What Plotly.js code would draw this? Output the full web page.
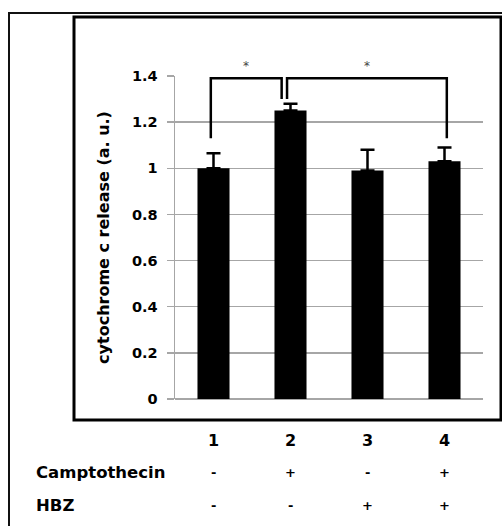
<!DOCTYPE html>
<html>
<head>
<meta charset="utf-8">
<script src="https://cdn.plot.ly/plotly-3.0.1.min.js"></script>
<style>html,body{margin:0;padding:0;background:#fff;}#chart{width:502px;height:526px;}</style>
</head>
<body>
<div id="chart"></div>
<script>
// ---- data ----
const categories = ['1', '2', '3', '4'];
const releaseValues = [1.0, 1.25, 0.99, 1.03];
const releaseErrors = [0.065, 0.03, 0.09, 0.06];
const camptothecin = ['-', '+', '-', '+'];
const hbz = ['-', '-', '+', '+'];
const yTickValues = [0, 0.2, 0.4, 0.6, 0.8, 1, 1.2, 1.4];
const yTickLabels = ['0', '0.2', '0.4', '0.6', '0.8', '1', '1.2', '1.4'];
// significance brackets (data units)
const bracketLeft = [-0.035, 0.955];
const bracketRight = [0.885, 3.03];
const bracketLeftFoot = [1.13, 1.30];
const bracketRightFoot = [1.30, 1.13];
const bracketTop = [1.39, 1.39];
const bracketLabels = ['*', '*'];

const W = 502, H = 526;
const px = v => v / W;
const py = v => 1 - v / H;
const FONT = 'DejaVu Sans, Liberation Sans, Arial, sans-serif';

const trace = {
  type: 'bar',
  x: categories,
  y: releaseValues,
  marker: {color: '#000000', line: {width: 0}},
  error_y: {
    type: 'data', array: releaseErrors, arrayminus: releaseErrors.map(() => 0),
    symmetric: false, color: '#000000', thickness: 2.5, width: 7
  },
  hoverinfo: 'skip'
};

const shapes = [
  // outer frame
  {type: 'rect', xref: 'paper', yref: 'paper', x0: px(9), x1: px(520), y0: py(540), y1: py(13),
   line: {color: '#111', width: 2}, layer: 'below'},
  // inner chart box
  {type: 'rect', xref: 'paper', yref: 'paper', x0: px(74), x1: px(501), y0: py(420), y1: py(17),
   line: {color: '#000', width: 3}, layer: 'below'}
];
const annotations = [];
for (let i = 0; i < bracketLeft.length; i++) {
  shapes.push({
    type: 'path', xref: 'x', yref: 'y',
    path: `M ${bracketLeft[i]},${bracketLeftFoot[i]} L ${bracketLeft[i]},${bracketTop[i]} L ${bracketRight[i]},${bracketTop[i]} L ${bracketRight[i]},${bracketRightFoot[i]}`,
    line: {color: '#000', width: 2.5}
  });
  annotations.push({
    xref: 'x', yref: 'paper', x: (bracketLeft[i] + bracketRight[i]) / 2, y: py(66), yanchor: 'middle',
    text: bracketLabels[i], showarrow: false, font: {family: FONT, size: 12, color: '#444'}
  });
}
// condition rows
annotations.push({xref: 'paper', yref: 'paper', x: px(34), y: py(472), xanchor: 'left', yanchor: 'middle',
  text: 'Camptothecin', showarrow: false, font: {family: FONT, size: 16.5, color: '#000', weight: 'bold'}});
annotations.push({xref: 'paper', yref: 'paper', x: px(34), y: py(505), xanchor: 'left', yanchor: 'middle',
  text: 'HBZ', showarrow: false, font: {family: FONT, size: 16.5, color: '#000', weight: 'bold'}});
categories.forEach((c, i) => {
  annotations.push({xref: 'x', yref: 'paper', x: i, y: py(472), yanchor: 'middle',
    text: camptothecin[i], showarrow: false, font: {family: FONT, size: 13, color: '#000', weight: 'bold'}});
  annotations.push({xref: 'x', yref: 'paper', x: i, y: py(505), yanchor: 'middle',
    text: hbz[i], showarrow: false, font: {family: FONT, size: 13, color: '#000', weight: 'bold'}});
});

const layout = {
  width: W, height: H, autosize: false,
  margin: {l: 0, r: 0, t: 0, b: 0},
  paper_bgcolor: '#fff', plot_bgcolor: 'rgba(0,0,0,0)',
  showlegend: false,
  bargap: 0.584,
  font: {family: FONT, color: '#000'},
  xaxis: {
    domain: [px(175), px(483)],
    type: 'category', categoryorder: 'array', categoryarray: categories,
    showgrid: false, zeroline: false, showline: false, ticks: '',
    tickfont: {family: FONT, size: 16, color: '#000', weight: 'bold'},
    ticklabelstandoff: 30, automargin: false, fixedrange: true
  },
  yaxis: {
    domain: [py(399), py(76)],
    range: [0, 1.4],
    tickmode: 'array', tickvals: yTickValues, ticktext: yTickLabels,
    showgrid: true, gridcolor: '#a6a6a6', gridwidth: 1.5,
    zeroline: true, zerolinecolor: '#a6a6a6', zerolinewidth: 1.5,
    showline: true, linecolor: '#a6a6a6', linewidth: 1.5,
    ticks: 'outside', ticklen: 7, tickcolor: '#a6a6a6', tickwidth: 1.5,
    tickfont: {family: FONT, size: 14.5, color: '#000', weight: 'bold'},
    ticklabelstandoff: 6,
    title: {text: 'cytochrome c release (a. u.)', standoff: 18,
      font: {family: FONT, size: 16, color: '#000', weight: 'bold'}},
    automargin: false, fixedrange: true
  },
  shapes: shapes,
  annotations: annotations
};

Plotly.newPlot('chart', [trace], layout, {displayModeBar: false, staticPlot: true});
</script>
</body>
</html>
